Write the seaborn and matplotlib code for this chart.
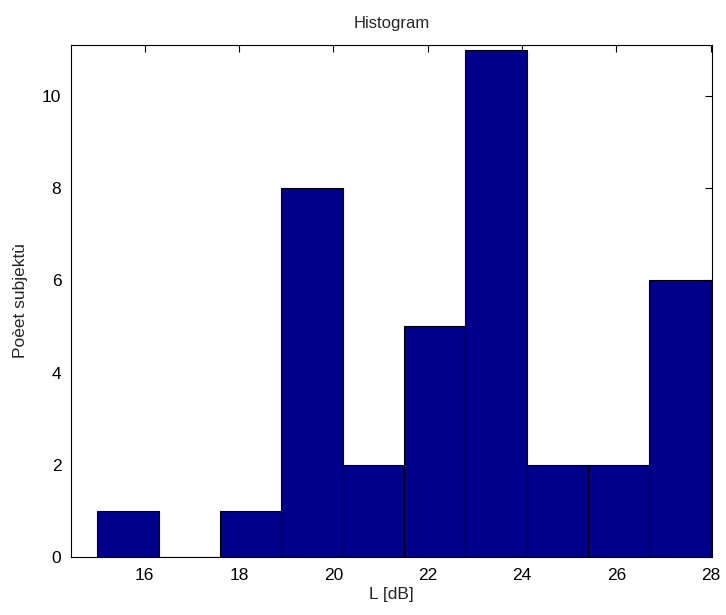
import matplotlib
matplotlib.use("Agg")
import matplotlib.pyplot as plt
import seaborn as sns
import numpy as np
import pandas as pd

bin_edges = [15.0, 16.3, 17.6, 18.9, 20.2, 21.5, 22.8, 24.1, 25.4, 26.7, 28.0]
counts = [1, 0, 1, 8, 2, 5, 11, 2, 2, 6]
x_ticks = [16, 18, 20, 22, 24, 26, 28]
y_ticks = [0, 2, 4, 6, 8, 10]

centers = [(a + b) / 2 for a, b in zip(bin_edges[:-1], bin_edges[1:])]
df = pd.DataFrame({"L": centers, "n": counts})

sns.set_style("white")
plt.rcParams["font.family"] = ["Liberation Sans", "DejaVu Sans"]

fig = plt.figure(figsize=(7.26, 6.15), dpi=100)
ax = fig.add_axes([0.0978, 0.0943, 0.883, 0.8325])

sns.histplot(data=df, x="L", weights="n", bins=bin_edges, ax=ax,
             color="#00008C", alpha=1.0, edgecolor="black", linewidth=0.8)

ax.set_xlim(14.44, 28.03)
ax.set_ylim(0, 11.1)
ax.set_xticks(x_ticks)
ax.set_yticks(y_ticks)
ax.tick_params(direction="in", top=True, right=True, length=5, width=0.8,
               labelsize=12.5, colors="black")
ax.tick_params(axis="x", pad=8)
ax.tick_params(axis="y", pad=7)
for s in ax.spines.values():
    s.set_visible(True)
    s.set_color("black")
    s.set_linewidth(0.8)

ax.set_title("Histogram", fontsize=12, pad=12)
ax.set_xlabel("L [dB]", fontsize=12.5, labelpad=3)
ax.set_ylabel("Poèet subjektù", fontsize=12.5, labelpad=10)

fig.savefig("out.png", dpi=100)
